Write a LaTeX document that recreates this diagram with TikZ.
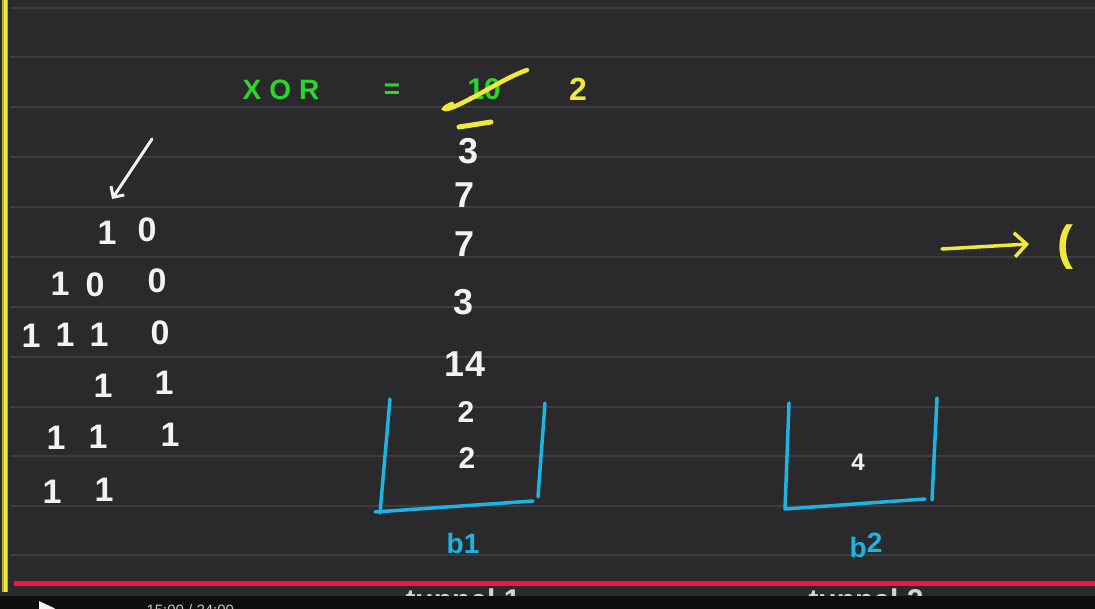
\documentclass[tikz,border=0pt]{standalone}
\usepackage{fontspec}
\setmainfont{Liberation Sans}
\usetikzlibrary{arrows.meta,positioning}
\definecolor{board}{HTML}{2A2A2D}
\definecolor{ruling}{HTML}{3D3D41}
\definecolor{chalk}{HTML}{F2F2F2}
\definecolor{lime}{HTML}{2CD62C}
\definecolor{marker}{HTML}{EFEA3A}
\definecolor{sky}{HTML}{1DB3E3}
\definecolor{progress}{HTML}{F2154A}
\definecolor{player}{HTML}{0E0E0E}
\tikzset{
  digit/.style={text=chalk,font=\fontsize{36}{40}\selectfont\bfseries,inner sep=0pt},
  bitdigit/.style={text=chalk,font=\fontsize{34}{38}\selectfont\bfseries,inner sep=0pt},
  greentext/.style={text=lime,font=\fontsize{28}{32}\selectfont\bfseries,inner sep=0pt},
  yellowtext/.style={text=marker,font=\fontsize{32}{36}\selectfont\bfseries,inner sep=0pt},
  bucketline/.style={sky,line width=3.5pt,line cap=round},
  bucketlabel/.style={text=sky,font=\fontsize{28}{32}\selectfont\bfseries,inner sep=0pt},
  pen/.style={line width=3.5pt,line cap=round},
  arrow/.style={-{Straight Barb[length=12pt,width=24pt]},pen}
}

\begin{document}
\begin{tikzpicture}[x=1pt,y=-1pt]
        \useasboundingbox (0,0) rectangle (1095,609);
        \clip (0,0) rectangle (1095,609);
        \fill[board] (0,0) rectangle (1095,596);
        % ruled lines of the board
        \foreach \y in {8,57,107,157,207,257,307,357,407,456,506,555}
          \draw[ruling,line width=1.3pt] (10,\y) -- (1095,\y);
        \fill[marker!75!black] (2,0) rectangle (8,592);
        \fill[marker] (3.5,0) rectangle (6.5,592);

        % heading
        \node[greentext] (xor) at (281,90) {X\hspace{8pt}O\hspace{8pt}R};
        \node[greentext] (eq) at (392,91) {=};
        \node[greentext,font=\fontsize{30}{34}\selectfont\bfseries] (old) at (484,89) {10};
        \node[yellowtext] (new) at (578,89) {2};
        \draw[marker,pen,line width=4.5pt] (452,104) .. controls (438,110) and (445,112) .. (462,103)
          .. controls (485,92) and (505,78) .. (527,70);
        \draw[marker,line width=5pt,line cap=round] (459,127) -- (491,122);

        % xor column
        \node[digit] (v1) at (469,151) {3};
        \node[digit] (v2) at (465,195) {7};
        \node[digit] (v3) at (465,244) {7};
        \node[digit] (v4) at (464,302) {3};
        \node[digit] (v5) at (465,364) {14};
        \node[digit,font=\fontsize{30}{34}\selectfont\bfseries] (v6) at (466,412) {2};
        \node[digit,font=\fontsize{30}{34}\selectfont\bfseries] (v7) at (467,458) {2};

        % bits
        \coordinate (tail) at (152,139);
        \coordinate (tip) at (112,199);
        \draw[chalk,pen,line width=3pt,-{Straight Barb[length=8pt,width=16pt]}] (tail) -- (tip);
        \node[bitdigit] (r1a) at (107,233) {1};
        \node[bitdigit] (r1b) at (147,230) {0};
        \node[bitdigit] (r2a) at (60,284) {1};
        \node[bitdigit] (r2b) at (95,285) {0};
        \node[bitdigit] (r2c) at (157,281) {0};
        \node[bitdigit] (r3a) at (31,336) {1};
        \node[bitdigit] (r3b) at (65,335) {1};
        \node[bitdigit] (r3c) at (99,335) {1};
        \node[bitdigit] (r3d) at (160,333) {0};
        \node[bitdigit] (r4a) at (103,386) {1};
        \node[bitdigit] (r4b) at (164,383) {1};
        \node[bitdigit] (r5a) at (56,438) {1};
        \node[bitdigit] (r5b) at (98,437) {1};
        \node[bitdigit] (r5c) at (170,435) {1};
        \node[bitdigit] (r6a) at (52,492) {1};
        \node[bitdigit] (r6b) at (104,490) {1};

        % buckets
        \draw[bucketline] (390,399) -- (380,513);
        \draw[bucketline] (375,512) -- (533,501);
        \draw[bucketline] (545,403) -- (538,497);
        \node[bucketlabel] (b1) at (463,543) {b1};
        \draw[bucketline] (789,403) -- (785,509);
        \draw[bucketline] (785,509) -- (925,499);
        \draw[bucketline] (937,398) -- (932,500);
        \node[digit,font=\fontsize{24}{28}\selectfont\bfseries] (val) at (858,462) {4};
        \node[bucketlabel] (b2) at (866,545) {b\raisebox{5pt}{2}};

        % pointer to the right
        \coordinate (from) at (942,249);
        \coordinate (to) at (1029,244);
        \draw[marker,arrow] (from) -- (to);
        \node[yellowtext,font=\fontsize{48}{52}\selectfont\bfseries] (paren) at (1065,247) {(};

        % notes under the buckets
        \node[text=chalk!85!board,font=\fontsize{30}{34}\selectfont\bfseries,anchor=north] (t1) at (463,585) {tunnel 1};
        \node[text=chalk!85!board,font=\fontsize{30}{34}\selectfont\bfseries,anchor=north] (t2) at (866,585) {tunnel 2};

        % player bar
        \fill[player] (0,596) rectangle (1095,609);
        \fill[progress] (14,581) rectangle (1095,585.5);
        \fill[chalk] (39,601) -- (39,616) -- (55,608.5) -- cycle;
        \node[text=chalk!80!player,font=\fontsize{15}{18}\selectfont,anchor=north west] (time) at (143,601) {15:00 / 24:00};
\end{tikzpicture}
\end{document}
